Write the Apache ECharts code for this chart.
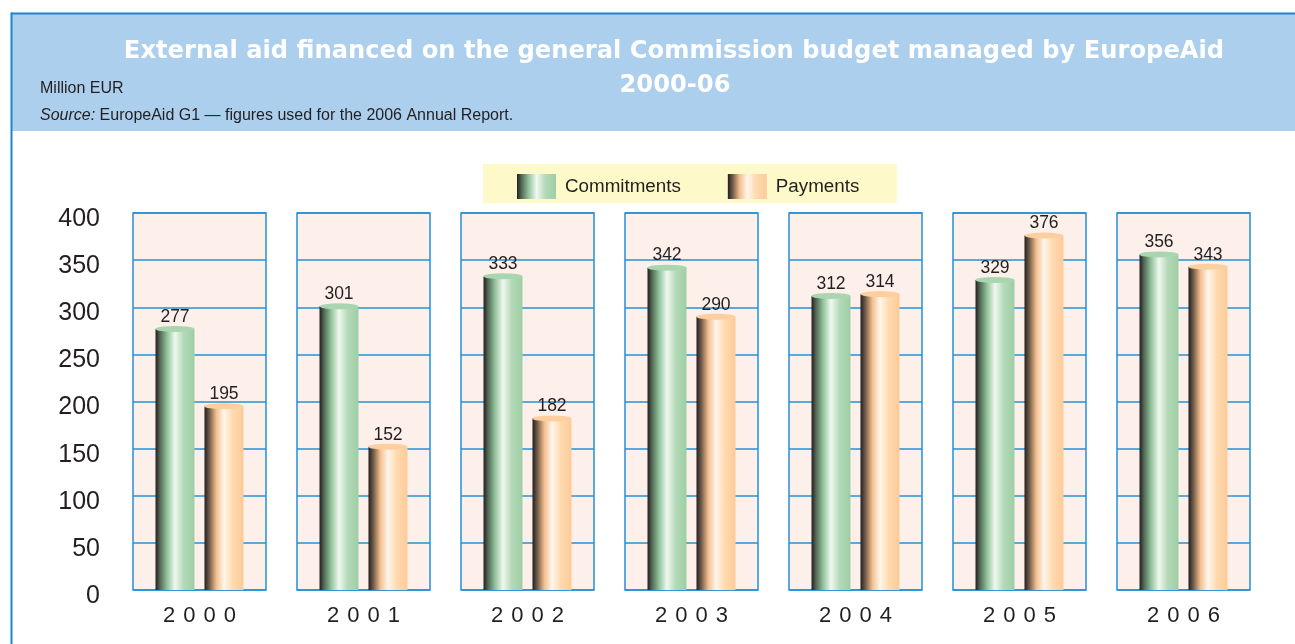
<!DOCTYPE html>
<html>
<head>
<meta charset="UTF-8">
<title>EuropeAid external aid 2000-06</title>
<script src="https://cdn.jsdelivr.net/npm/echarts@6/dist/echarts.min.js"></script>
<style>
  html, body { margin: 0; padding: 0; background: #fff; }
  #main { width: 1295px; height: 644px; }
</style>
</head>
<body>
<div id="main"></div>
<script>
// data (million EUR)
var years = ['2000', '2001', '2002', '2003', '2004', '2005', '2006'];
var commitments = [277, 301, 333, 342, 312, 329, 356];
var payments = [195, 152, 182, 290, 314, 376, 343];
var yMin = 0, yMax = 400, yStep = 50;

var BLUE = '#2590d6';
var PANEL = '#fdf0eb';
var INK = '#231f20';

function cyl(stops) {
  return new echarts.graphic.LinearGradient(0, 0, 1, 0, stops);
}
var greenFill = cyl([
  { offset: 0, color: '#231f20' },
  { offset: 0.12, color: '#556b58' },
  { offset: 0.3, color: '#92c49b' },
  { offset: 0.5, color: '#f0f8f0' },
  { offset: 0.72, color: '#b4dab9' },
  { offset: 1, color: '#9dcea4' }
]);
var orangeFill = cyl([
  { offset: 0, color: '#231f20' },
  { offset: 0.12, color: '#6e5a48' },
  { offset: 0.3, color: '#f2bd8c' },
  { offset: 0.5, color: '#fff6ec' },
  { offset: 0.72, color: '#ffdab0' },
  { offset: 1, color: '#fdcb98' }
]);

var grids = [], xAxes = [], yAxes = [], series = [];
for (var i = 0; i < years.length; i++) {
  grids.push({
    left: 133 + i * 164, width: 133, top: 213, bottom: 54,
    show: true, backgroundColor: PANEL, borderColor: BLUE, borderWidth: 1.5
  });
  xAxes.push({
    type: 'category', gridIndex: i, data: [years[i]],
    axisLine: { show: false }, axisTick: { show: false },
    axisLabel: {
      margin: 15, fontSize: 22, color: INK, fontFamily: 'Liberation Sans',
      formatter: function (v) { return v.split('').join(' \u200A'); }
    }
  });
  yAxes.push({
    type: 'value', gridIndex: i, min: yMin, max: yMax, interval: yStep,
    axisLine: { show: false }, axisTick: { show: false },
    splitLine: { lineStyle: { color: BLUE, width: 1.5 } },
    axisLabel: {
      show: i === 0, margin: 33, fontSize: 25, color: INK, fontFamily: 'Liberation Sans',
      verticalAlign: 'top', lineHeight: 12
    }
  });
  var lbl = { show: true, position: 'top', distance: 3, fontSize: 17.5, color: INK, fontFamily: 'Liberation Sans' };
  series.push({
    name: 'Commitments', type: 'bar', xAxisIndex: i, yAxisIndex: i,
    data: [commitments[i]], barWidth: 39, barGap: '25.6%',
    itemStyle: { color: greenFill }, label: lbl
  });
  series.push({
    name: 'Payments', type: 'bar', xAxisIndex: i, yAxisIndex: i,
    data: [payments[i]], barWidth: 39, barGap: '25.6%',
    itemStyle: { color: orangeFill }, label: lbl
  });
  // cylinder caps
  series.push({
    name: 'capC', type: 'pictorialBar', xAxisIndex: i, yAxisIndex: i,
    data: [commitments[i]], symbol: 'circle', symbolSize: [39, 6],
    symbolPosition: 'end', symbolOffset: [-24.5, '-50%'], z: 3,
    itemStyle: { color: '#a9d6b0' }, silent: true
  });
  series.push({
    name: 'capP', type: 'pictorialBar', xAxisIndex: i, yAxisIndex: i,
    data: [payments[i]], symbol: 'circle', symbolSize: [39, 6],
    symbolPosition: 'end', symbolOffset: [24.5, '-50%'], z: 3,
    itemStyle: { color: '#fdcfa0' }, silent: true
  });
}

var option = {
  backgroundColor: '#fff',
  animation: false,
  textStyle: { fontFamily: 'Liberation Sans' },
  graphic: [
    { type: 'rect', shape: { x: 12, y: 14, width: 1283, height: 117 }, style: { fill: '#abcfec' }, z: -10 },
    { type: 'rect', shape: { x: 11, y: 12.5, width: 1284, height: 2 }, style: { fill: '#1a86d0' }, z: -9 },
    { type: 'rect', shape: { x: 10.5, y: 12.5, width: 2, height: 632 }, style: { fill: '#1a86d0' }, z: -9 },
    { type: 'rect', shape: { x: 483, y: 164, width: 414, height: 39 }, style: { fill: '#fdf9c9' }, z: -5 },
    {
      type: 'text', x: 674, y: 52,
      style: {
        text: 'External aid financed on the general Commission budget managed by EuropeAid',
        fill: '#ffffff', font: 'bold 24.2px "DejaVu Sans"', align: 'center', verticalAlign: 'middle'
      }
    },
    {
      type: 'text', x: 675, y: 86,
      style: {
        text: '2000-06',
        fill: '#ffffff', font: 'bold 24.2px "DejaVu Sans"', align: 'center', verticalAlign: 'middle'
      }
    },
    {
      type: 'text', x: 40, y: 89,
      style: { text: 'Million EUR', fill: INK, font: '16px "Liberation Sans"', verticalAlign: 'middle' }
    },
    {
      type: 'text', x: 40, y: 116,
      style: {
        text: '{i|Source:} EuropeAid G1 \u2014 figures used for the 2006 Annual Report.',
        fill: INK, font: '16px "Liberation Sans"', verticalAlign: 'middle',
        rich: { i: { fontStyle: 'italic', fontSize: 16, fontFamily: 'Liberation Sans', fill: INK } }
      }
    }
  ],
  legend: {
    data: ['Commitments', 'Payments'],
    left: 517, top: 174, padding: 0,
    icon: 'rect', itemWidth: 39, itemHeight: 25, itemGap: 47,
    textStyle: { fontSize: 18.8, color: INK, fontFamily: 'Liberation Sans', padding: [0, 0, 0, 4] }
  },
  grid: grids,
  xAxis: xAxes,
  yAxis: yAxes,
  series: series
};

var chart = echarts.init(document.getElementById('main'));
chart.setOption(option);
</script>
</body>
</html>
